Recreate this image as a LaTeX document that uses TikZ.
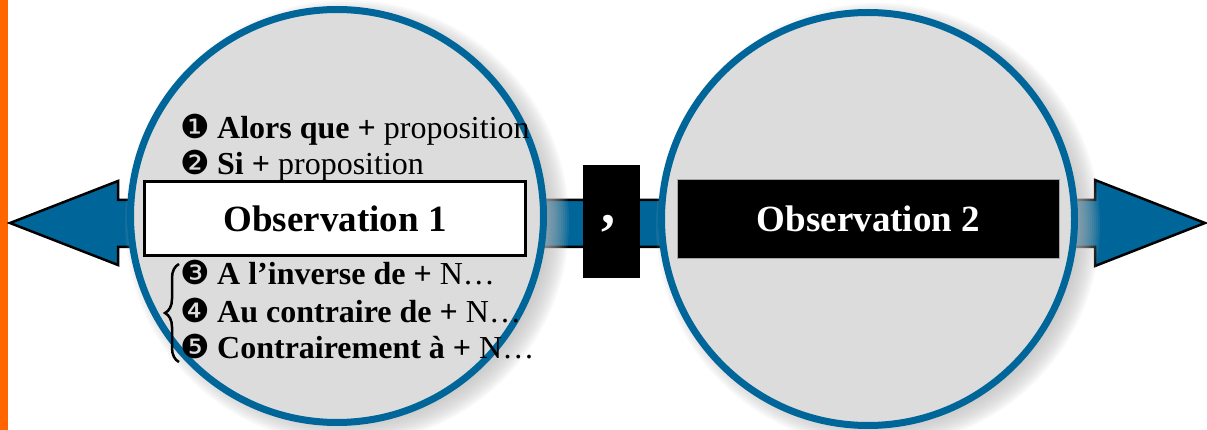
\documentclass[tikz,border=0pt]{standalone}
\usepackage{fontspec}
\setmainfont{Liberation Serif}
\newfontfamily\dingfont{DejaVu Sans}
\usetikzlibrary{decorations.pathreplacing}
\definecolor{arrowblue}{RGB}{0,102,153}
\definecolor{circfill}{RGB}{220,220,220}
\definecolor{barorange}{RGB}{255,102,0}
\definecolor{shadowgray}{RGB}{185,185,185}
\newcommand\dg[1]{\makebox[35pt][l]{\hspace{-2pt}\dingfont\fontsize{33}{33}\selectfont #1}}
\begin{document}
\begin{tikzpicture}[x=1pt,y=-1pt,
  bigcircle/.style={circle, draw=arrowblue, line width=7pt, fill=circfill, minimum size=413pt, inner sep=0pt},
  obsfont/.style={font=\fontsize{37}{44}\selectfont\bfseries},
  listitem/.style={anchor=base west, inner sep=0pt, font=\fontsize{32}{36}\selectfont},
  shadowlayer/.style={fill=shadowgray, opacity=0.1}
]
\useasboundingbox (0,0) rectangle (1207,430);
% orange bar
\fill[barorange] (0,0) rectangle (8,430);
% double arrow behind circles
\draw[fill=arrowblue, draw=black, line width=2.5pt, line join=miter]
  (10,223) -- (118,181) -- (118,200) -- (1095,200) -- (1095,180) -- (1205,223)
  -- (1095,266) -- (1095,247) -- (118,247) -- (118,265) -- cycle;
% soft shadows
\foreach \r in {198,200,...,222} {
  \fill[shadowlayer] (347,222) circle (\r);
  \fill[shadowlayer] (878,225) circle (\r);
}
% circles
\node[bigcircle] (c1) at (337,216) {};
\node[bigcircle] (c2) at (868,219) {};
% observation boxes
\node[draw=black, line width=3pt, fill=white, minimum width=381pt, minimum height=74pt, inner sep=0pt, obsfont] (o1) at (335,218.5) {Observation 1};
\node[draw=black!35, line width=1pt, fill=black, text=white, minimum width=382pt, minimum height=79pt, inner sep=0pt, obsfont] (o2) at (868.5,219) {Observation 2};
% comma box
\node[fill=black, minimum width=57pt, minimum height=113pt, inner sep=0pt] (cm) at (611.5,221.5) {};
\node[text=white, anchor=base, inner sep=0pt, font=\fontsize{56}{56}\selectfont\bfseries] (cmtext) at (608,224) {,};
% list items
\node[listitem] (l1) at (182,139) {\dg{❶}\textbf{Alors que +} proposition};
\node[listitem] (l2) at (182,175) {\dg{❷}\textbf{Si +} proposition};
\node[listitem] (l3) at (182,285) {\dg{❸}\textbf{A l’inverse de +} N…};
\node[listitem] (l4) at (182,322) {\dg{❹}\textbf{Au contraire de +} N…};
\node[listitem] (l5) at (182,358) {\dg{❺}\textbf{Contrairement à +} N…};
% brace
\draw[line width=2.5pt, decorate, decoration={brace, amplitude=14pt}] (179,362) -- (179,264);
\end{tikzpicture}
\end{document}
